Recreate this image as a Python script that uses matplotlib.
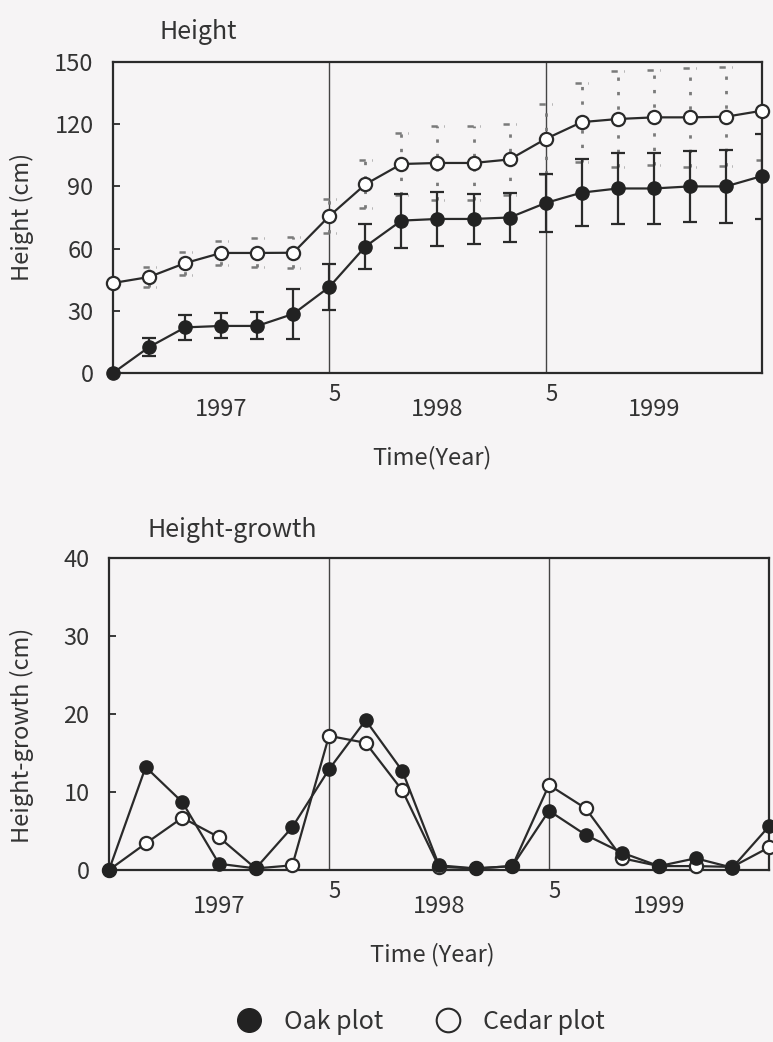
import matplotlib
matplotlib.use("Agg")
import matplotlib.pyplot as plt
import matplotlib.transforms as mtransforms
import numpy as np
from matplotlib.lines import Line2D

plt.rcParams['font.family'] = ['Noto Sans CJK JP', 'DejaVu Sans']

# sampling occasions, 1997 - 1999
samples = np.arange(19)
year_pos = [3, 9, 15]
year_labels = ['1997', '1998', '1999']
may_pos = [6, 12]
may_labels = ['5', '5']

# mean height (cm) and SD
oak_height = [0, 12.5, 22, 22.7, 22.7, 28.5, 41.5, 61, 73.5, 74.3, 74.3, 75,
              82, 87, 89, 89, 90, 90, 95]
oak_sd = [0, 4.5, 6, 6, 6.5, 12, 11, 11, 13, 13, 12, 12,
          14, 16, 17, 17, 17, 17.5, 20.5]
cedar_height = [43.4, 46.3, 53, 57.9, 57.9, 58, 75.7, 91, 100.8, 101.3, 101.3, 103,
                112.9, 121, 122.5, 123.3, 123.3, 123.6, 126.5]
cedar_sd = [0, 5, 5.5, 6, 7, 7.5, 8, 11.5, 15, 18, 18, 17,
            17, 19, 23, 23, 24, 24, 24]

# height growth (cm) between samplings
oak_growth = [0, 13.2, 8.7, 0.8, 0.2, 5.5, 12.9, 19.2, 12.7, 0.6, 0.2, 0.5,
              7.6, 4.5, 2.2, 0.5, 1.5, 0.3, 5.6]
cedar_growth = [0, 3.4, 6.7, 4.2, 0.2, 0.6, 17.2, 16.3, 10.2, 0.4, 0.2, 0.5,
                10.9, 7.9, 1.5, 0.5, 0.5, 0.4, 2.9]

ink = '#2a2a2a'
txt = '#333333'
bg = '#f6f4f5'
faint = '#7a7a7a'

W, H = 773, 1042
fig = plt.figure(figsize=(W / 100, H / 100), dpi=100, facecolor=bg)


def style(ax, yticks):
    ax.set_facecolor(bg)
    ax.set_xlim(0, 18)
    ax.set_ylim(yticks[0], yticks[-1])
    for s in ax.spines.values():
        s.set_linewidth(1.6)
        s.set_color(ink)
    ax.set_yticks(yticks)
    ax.tick_params(axis='y', direction='in', length=5, width=1.3, pad=14,
                   labelsize=17, color=ink, labelcolor=txt)
    ax.set_xticks(may_pos, may_labels)
    ax.set_xticks(year_pos, year_labels, minor=True)
    ax.tick_params(axis='x', which='major', length=0, pad=7, labelsize=16, labelcolor=txt)
    ax.tick_params(axis='x', which='minor', length=0, pad=18, labelsize=17, labelcolor=txt)
    # month marks sit a little right of their guide line
    shift = mtransforms.ScaledTranslation(4 / 72, 0, fig.dpi_scale_trans)
    for lbl in ax.get_xticklabels():
        lbl.set_transform(lbl.get_transform() + shift)
    for p in may_pos:
        ax.axvline(p, color='#444444', lw=1.0, zorder=1)


# --- height ---
ax1 = fig.add_axes([113 / W, 1 - 373 / H, 649 / W, 311 / H])
style(ax1, [0, 30, 60, 90, 120, 150])

ch = np.array(cedar_height)
cs = np.array(cedar_sd)
ax1.vlines(samples, ch - cs, ch + cs, colors=faint, lw=2.0,
           linestyles=(0, (1.2, 4)), zorder=2)
ax1.hlines(ch + cs, samples - 0.18, samples + 0.18, colors=faint, lw=1.8,
           linestyles=(0, (2.5, 2.5)), zorder=2)
ax1.hlines(ch - cs, samples - 0.18, samples + 0.18, colors=faint, lw=1.8,
           linestyles=(0, (2.5, 2.5)), zorder=2)
ax1.errorbar(samples, oak_height, yerr=oak_sd, fmt='none', ecolor=ink,
             elinewidth=1.6, capsize=4.7, capthick=1.6, zorder=3)

ax1.plot(samples, cedar_height, '-o', color=ink, lw=1.6, mfc='white', mec=ink,
         mew=1.6, ms=9.5, clip_on=False, zorder=4)
ax1.plot(samples, oak_height, '-o', color=ink, lw=1.6, mfc='#222222', mec='#222222',
         ms=9.5, clip_on=False, zorder=5)

fig.text(160 / W, 1 - 32 / H, 'Height', fontsize=18, color=txt, va='center')
fig.text(22 / W, 1 - 217 / H, 'Height (cm)', fontsize=17, color=txt,
         rotation=90, ha='center', va='center')
fig.text(432 / W, 1 - 458 / H, 'Time(Year)', fontsize=17, color=txt,
         ha='center', va='center')

# --- height growth ---
ax2 = fig.add_axes([109 / W, 1 - 870 / H, 660 / W, 312 / H])
style(ax2, [0, 10, 20, 30, 40])

ax2.plot(samples, cedar_growth, '-o', color=ink, lw=1.6, mfc='white', mec=ink,
         mew=1.6, ms=9.5, clip_on=False, zorder=4)
ax2.plot(samples, oak_growth, '-o', color=ink, lw=1.6, mfc='#222222', mec='#222222',
         ms=9.5, clip_on=False, zorder=5)

fig.text(148 / W, 1 - 530 / H, 'Height-growth', fontsize=18, color=txt, va='center')
fig.text(22 / W, 1 - 735 / H, 'Height-growth (cm)', fontsize=17, color=txt,
         rotation=90, ha='center', va='center')
fig.text(432 / W, 1 - 955 / H, 'Time (Year)', fontsize=17, color=txt,
         ha='center', va='center')

handles = [
    Line2D([], [], ls='none', marker='o', ms=17, mfc='#222222', mec='#222222'),
    Line2D([], [], ls='none', marker='o', ms=17, mfc='none', mec=ink, mew=1.5),
]
fig.legend(handles, ['Oak plot', 'Cedar plot'], loc='center',
           bbox_to_anchor=(414 / W, 1 - 1022 / H), ncol=2, frameon=False,
           fontsize=18, handletextpad=0.4, columnspacing=1.6, labelcolor=txt)

fig.savefig('out.png', dpi=100, facecolor=bg)
